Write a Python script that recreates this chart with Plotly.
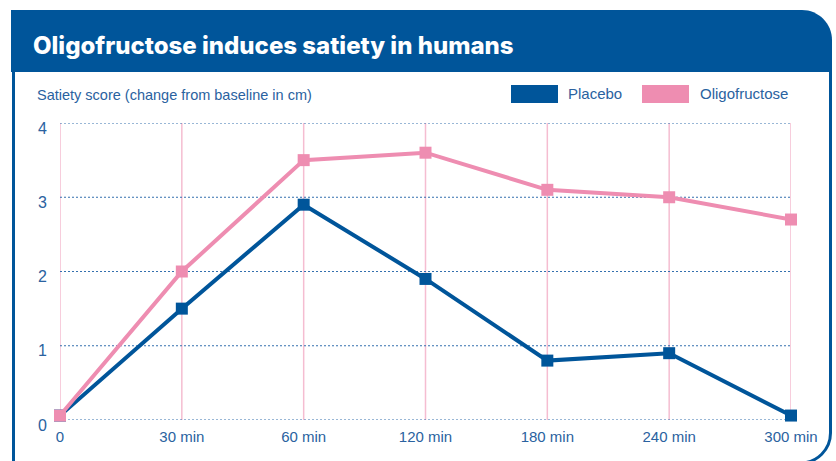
import plotly.graph_objects as go

# Time points and satiety scores (change from baseline, cm)
time_labels = ["0", "30 min", "60 min", "120 min", "180 min", "240 min", "300 min"]
placebo = [0.06, 1.5, 2.9, 1.9, 0.8, 0.9, 0.06]
oligofructose = [0.06, 2.0, 3.5, 3.6, 3.1, 3.0, 2.7]
y_ticks = [0, 1, 2, 3, 4]

BLUE = "#00559A"
PINK = "#EE8DB1"
TEXT_BLUE = "#2A62A0"
GRID_PINK = "#F5BDD1"
GRID_DOT = "#3470AE"
FONT = "Liberation Sans, Arial, sans-serif"

W, H = 836, 461
ML, MR, MT, MB = 60, 45, 123, 41
PW, PH = W - ML - MR, H - MT - MB


def px(x):
    return (x - ML) / PW


def py(y):
    return (H - MB - y) / PH


fig = go.Figure()

# Gridlines: solid pink verticals at each time point, dotted blue horizontals
shapes = []
for t in time_labels:
    shapes.append(dict(type="line", xref="x", yref="paper", x0=t, x1=t, y0=0, y1=1,
                       line=dict(color=GRID_PINK, width=1.5), layer="below"))
for v in y_ticks:
    shapes.append(dict(type="line", xref="paper", yref="y", x0=0, x1=1, y0=v, y1=v,
                       line=dict(color=GRID_DOT, width=1.2, dash="2px,2px"), layer="below"))

fig.add_trace(go.Scatter(
    x=time_labels, y=placebo, mode="lines+markers", name="Placebo",
    line=dict(color=BLUE, width=4),
    marker=dict(symbol="square", size=12, color=BLUE),
    cliponaxis=False, showlegend=False,
))
fig.add_trace(go.Scatter(
    x=time_labels, y=oligofructose, mode="lines+markers", name="Oligofructose",
    line=dict(color=PINK, width=4),
    marker=dict(symbol="square", size=12, color=PINK),
    cliponaxis=False, showlegend=False,
))

# Header band with rounded top-right corner
r = 30
k = 0.55 * r
hx0, hx1, hy0, hy1 = 11, 832, 10, 72
header_path = (
    f"M {px(hx0)},{py(hy1)} L {px(hx0)},{py(hy0)} L {px(hx1 - r)},{py(hy0)} "
    f"C {px(hx1 - r + k)},{py(hy0)} {px(hx1)},{py(hy0 + r - k)} {px(hx1)},{py(hy0 + r)} "
    f"L {px(hx1)},{py(hy1)} Z"
)
shapes.append(dict(type="path", xref="paper", yref="paper", path=header_path,
                   fillcolor=BLUE, line=dict(width=0), layer="below"))

# Panel border below the header
bx0, bx1, by1 = 13.5, 830.5, 463
body_path = (
    f"M {px(bx0)},{py(hy1)} L {px(bx0)},{py(by1 + 10)} "
    f"M {px(bx1)},{py(hy1)} L {px(bx1)},{py(by1 - r)} "
    f"C {px(bx1)},{py(by1 - r + k)} {px(bx1 - r + k)},{py(by1)} {px(bx1 - r)},{py(by1)} "
    f"L {px(bx0)},{py(by1)}"
)
shapes.append(dict(type="path", xref="paper", yref="paper", path=body_path,
                   line=dict(color=BLUE, width=3), layer="below"))

# Legend swatches
shapes.append(dict(type="rect", xref="paper", yref="paper",
                   x0=px(511), x1=px(558), y0=py(103), y1=py(85),
                   fillcolor=BLUE, line=dict(width=0)))
shapes.append(dict(type="rect", xref="paper", yref="paper",
                   x0=px(642), x1=px(689), y0=py(103), y1=py(85),
                   fillcolor=PINK, line=dict(width=0)))

annotations = [
    dict(text="Oligofructose induces satiety in humans", x=px(31), y=py(45),
         xref="paper", yref="paper", xanchor="left", yanchor="middle", showarrow=False,
         font=dict(family="Inter, Liberation Sans, sans-serif", size=24, weight=800,
                   color="white")),
    dict(text="Satiety score (change from baseline in cm)", x=px(35), y=py(95),
         xref="paper", yref="paper", xanchor="left", yanchor="middle", showarrow=False,
         font=dict(family=FONT, size=14.5, color=TEXT_BLUE)),
    dict(text="Placebo", x=px(566), y=py(94),
         xref="paper", yref="paper", xanchor="left", yanchor="middle", showarrow=False,
         font=dict(family=FONT, size=15, color=TEXT_BLUE)),
    dict(text="Oligofructose", x=px(698), y=py(94),
         xref="paper", yref="paper", xanchor="left", yanchor="middle", showarrow=False,
         font=dict(family=FONT, size=15, color=TEXT_BLUE)),
]

fig.update_layout(
    width=W, height=H,
    margin=dict(l=ML, r=MR, t=MT, b=MB, pad=0),
    paper_bgcolor="white", plot_bgcolor="white",
    shapes=shapes, annotations=annotations,
    font=dict(family=FONT, size=14, color=TEXT_BLUE),
    xaxis=dict(
        type="category", categoryorder="array", categoryarray=time_labels,
        range=[0, len(time_labels) - 1],
        showgrid=False, zeroline=False, showline=False, ticks="",
        tickfont=dict(size=15, color=TEXT_BLUE), ticklabelstandoff=6,
    ),
    yaxis=dict(
        range=[0, 4], tickvals=y_ticks, ticktext=[str(v) for v in y_ticks],
        showgrid=False, zeroline=False, showline=False, ticks="",
        tickfont=dict(size=16, color=TEXT_BLUE), ticklabelstandoff=12,
        ticklabelshift=5,
    ),
)

fig.write_html("out.html")
